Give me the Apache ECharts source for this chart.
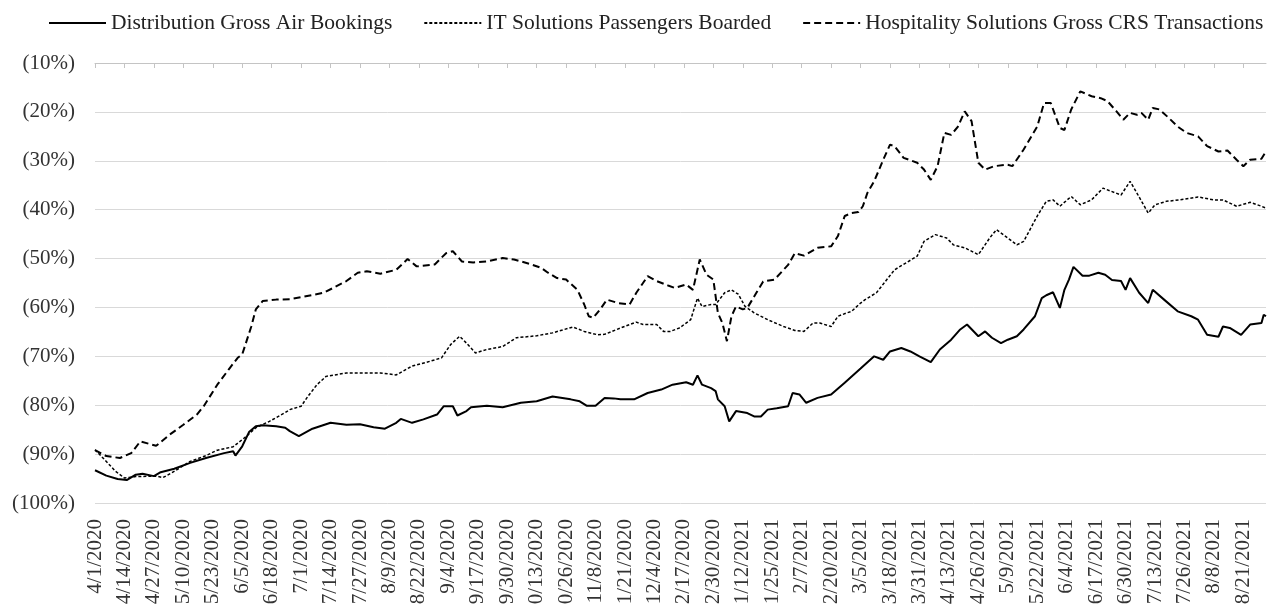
<!DOCTYPE html>
<html>
<head>
<meta charset="utf-8">
<script src="https://cdn.jsdelivr.net/npm/echarts@6.0.0/dist/echarts.min.js"></script>
<style>
  html, body { margin: 0; padding: 0; background: #ffffff; }
  #chart { width: 1267px; height: 604px; }
</style>
</head>
<body>
<div id="chart"></div>
<script>
// Day offsets are counted from 4/1/2020 (day 0); tick labels every 13 days.
const xTickLabels = ['4/1/2020','4/14/2020','4/27/2020','5/10/2020','5/23/2020','6/5/2020','6/18/2020','7/1/2020','7/14/2020','7/27/2020','8/9/2020','8/22/2020','9/4/2020','9/17/2020','9/30/2020','10/13/2020','10/26/2020','11/8/2020','11/21/2020','12/4/2020','12/17/2020','12/30/2020','1/12/2021','1/25/2021','2/7/2021','2/20/2021','3/5/2021','3/18/2021','3/31/2021','4/13/2021','4/26/2021','5/9/2021','5/22/2021','6/4/2021','6/17/2021','6/30/2021','7/13/2021','7/26/2021','8/8/2021','8/21/2021'];
const tickStepDays = 13;
const lastDay = 517;

const seriesNames = ['Distribution Gross Air Bookings', 'IT Solutions Passengers Boarded', 'Hospitality Solutions Gross CRS Transactions'];

// [day offset, % change]
const distribution = [[0,-93.3],[5,-94.4],[10,-95.1],[14,-95.3],[18,-94.2],[21,-94.0],[26,-94.5],[29,-93.7],[35,-93.0],[42,-91.8],[49,-90.8],[57,-89.8],[61,-89.4],[62,-90.3],[65,-88.4],[68,-85.5],[71,-84.3],[74,-84.1],[80,-84.3],[84,-84.6],[86,-85.3],[90,-86.3],[96,-84.8],[104,-83.6],[111,-84.0],[117,-83.9],[123,-84.5],[128,-84.8],[133,-83.6],[135,-82.8],[140,-83.6],[145,-82.9],[151,-81.9],[154,-80.2],[158,-80.2],[160,-82.1],[164,-81.2],[166,-80.4],[173,-80.1],[180,-80.4],[188,-79.5],[195,-79.2],[202,-78.2],[210,-78.8],[214,-79.2],[217,-80.1],[221,-80.1],[225,-78.5],[229,-78.6],[232,-78.8],[238,-78.8],[244,-77.5],[250,-76.8],[255,-75.8],[261,-75.3],[264,-75.8],[266,-73.9],[268,-75.8],[272,-76.5],[274,-77.1],[275,-78.8],[278,-80.2],[280,-83.3],[283,-81.2],[288,-81.6],[291,-82.3],[294,-82.3],[297,-80.9],[301,-80.6],[306,-80.2],[308,-77.5],[311,-77.8],[314,-79.5],[319,-78.5],[325,-77.8],[331,-75.4],[338,-72.5],[344,-70.0],[348,-70.7],[351,-69.0],[356,-68.3],[360,-69.0],[364,-70.0],[369,-71.2],[373,-68.6],[378,-66.6],[382,-64.5],[385,-63.5],[390,-65.9],[393,-64.9],[396,-66.2],[400,-67.3],[403,-66.6],[407,-65.9],[410,-64.5],[415,-61.8],[418,-58.1],[420,-57.5],[423,-56.9],[426,-60.1],[428,-56.4],[430,-54.3],[432,-51.7],[436,-53.5],[439,-53.5],[443,-52.9],[446,-53.3],[449,-54.4],[453,-54.6],[455,-56.4],[457,-54.0],[461,-57.0],[465,-59.1],[467,-56.4],[472,-58.4],[478,-60.8],[484,-61.8],[487,-62.5],[491,-65.6],[496,-66.0],[498,-63.9],[501,-64.2],[506,-65.6],[510,-63.5],[515,-63.2],[516,-61.5],[517,-61.8]];

const itSolutions = [[0,-89.1],[5,-91.5],[9,-93.5],[13,-94.9],[18,-94.6],[27,-94.5],[30,-94.8],[34,-93.8],[42,-91.5],[49,-90.3],[54,-89.2],[61,-88.5],[67,-86.3],[71,-84.6],[77,-83.3],[84,-81.5],[86,-80.9],[91,-80.2],[94,-78.2],[98,-75.8],[102,-74.1],[111,-73.4],[126,-73.4],[133,-73.8],[140,-72.0],[148,-71.0],[153,-70.3],[157,-67.6],[161,-65.9],[164,-67.3],[168,-69.3],[173,-68.6],[180,-68.0],[186,-66.2],[195,-65.8],[202,-65.2],[211,-64.0],[216,-64.9],[222,-65.6],[225,-65.5],[232,-64.2],[239,-63.0],[242,-63.5],[248,-63.5],[251,-64.9],[254,-64.9],[258,-64.2],[263,-62.5],[266,-58.1],[268,-59.8],[272,-59.4],[274,-59.4],[278,-57.0],[281,-56.4],[284,-57.3],[287,-59.8],[291,-61.1],[297,-62.5],[304,-63.9],[309,-64.7],[313,-64.9],[317,-63.2],[320,-63.2],[325,-63.9],[328,-61.8],[332,-61.1],[334,-60.8],[338,-59.1],[340,-58.4],[345,-57.0],[353,-52.3],[363,-49.5],[366,-46.5],[371,-45.1],[376,-45.8],[379,-47.2],[384,-47.8],[390,-49.2],[395,-45.8],[398,-44.1],[403,-45.8],[407,-47.2],[410,-46.5],[416,-41.3],[420,-38.3],[423,-38.0],[426,-39.3],[431,-37.3],[435,-39.0],[440,-38.0],[445,-35.6],[453,-37.0],[457,-34.2],[460,-36.6],[465,-40.7],[468,-39.0],[473,-38.3],[479,-38.0],[487,-37.4],[494,-38.0],[498,-38.0],[504,-39.3],[510,-38.5],[515,-39.3],[517,-39.7]];

const hospitality = [[0,-89.2],[5,-90.4],[11,-90.8],[16,-89.8],[20,-87.4],[27,-88.3],[33,-86.0],[39,-84.0],[45,-81.9],[48,-80.2],[54,-75.8],[59,-72.7],[63,-70.3],[65,-69.6],[69,-63.9],[71,-60.4],[74,-58.7],[80,-58.4],[86,-58.3],[91,-57.9],[101,-57.0],[111,-54.6],[116,-52.9],[120,-52.6],[126,-53.1],[133,-52.3],[138,-50.1],[142,-51.6],[150,-51.2],[155,-48.9],[158,-48.5],[162,-50.6],[167,-50.8],[173,-50.6],[180,-49.9],[185,-50.2],[192,-51.1],[197,-51.9],[200,-52.9],[204,-54.0],[208,-54.3],[213,-56.4],[216,-59.4],[218,-61.8],[220,-62.1],[223,-60.4],[226,-58.4],[231,-59.1],[236,-59.4],[239,-57.0],[244,-53.6],[248,-54.6],[253,-55.5],[256,-56.0],[261,-55.3],[264,-56.4],[267,-50.2],[270,-53.3],[273,-54.3],[275,-61.1],[277,-63.2],[279,-66.9],[281,-61.8],[283,-59.8],[286,-60.4],[288,-60.1],[292,-57.0],[295,-54.7],[300,-54.3],[306,-51.3],[309,-48.9],[313,-49.4],[319,-47.8],[325,-47.5],[328,-45.4],[331,-41.3],[334,-40.7],[337,-40.5],[339,-39.3],[341,-36.6],[344,-34.2],[348,-29.8],[351,-26.7],[353,-27.0],[357,-29.4],[363,-30.4],[366,-31.8],[369,-33.9],[372,-31.1],[375,-24.3],[378,-24.7],[381,-23.0],[384,-19.9],[387,-21.9],[390,-30.4],[393,-31.8],[397,-31.1],[403,-30.8],[405,-31.1],[410,-27.7],[416,-23.0],[419,-18.2],[422,-18.2],[426,-23.3],[428,-23.7],[431,-19.5],[435,-15.8],[440,-16.8],[444,-17.2],[447,-17.8],[451,-19.9],[454,-21.6],[457,-20.2],[460,-20.6],[462,-20.2],[465,-21.6],[467,-19.2],[470,-19.5],[474,-21.2],[478,-23.0],[482,-24.3],[487,-25.0],[491,-27.0],[496,-28.1],[500,-27.9],[504,-29.8],[507,-31.1],[510,-29.8],[515,-29.6],[517,-28.1]];

const yMin = -100, yMax = -10, yStep = 10;

const tickDays = xTickLabels.map((_, i) => i * tickStepDays);
const FONT = '"Liberation Serif", "Times New Roman", serif';

const chart = echarts.init(document.getElementById('chart'), null, { renderer: 'canvas' });
chart.setOption({
  animation: false,
  backgroundColor: '#ffffff',
  legend: {
    data: seriesNames,
    left: 43,
    top: 7,
    width: 1224,
    itemWidth: 57,
    itemHeight: 12,
    itemGap: 31,
    itemStyle: { opacity: 0 },
    textStyle: { fontFamily: FONT, fontSize: 21.5, color: '#222222' }
  },
  grid: { left: 95, right: 1, top: 63, bottom: 101, containLabel: false, outerBoundsMode: 'none' },
  xAxis: [
    {
      type: 'value', position: 'bottom', min: 0, max: lastDay,
      axisLine: { show: false }, axisTick: { show: false }, splitLine: { show: false },
      axisLabel: {
        customValues: tickDays,
        rotate: 90, margin: 16, hideOverlap: false,
        fontFamily: FONT, fontSize: 21, color: '#333333',
        formatter: v => xTickLabels[Math.round(v / tickStepDays)] || ''
      }
    },
    {
      type: 'value', position: 'top', min: 0, max: lastDay,
      axisLine: { show: true, lineStyle: { color: '#c4c4c4', width: 1 } },
      axisTick: { show: true, inside: true, length: 5, customValues: tickDays, lineStyle: { color: '#c4c4c4' } },
      axisLabel: { show: false },
      splitLine: { show: false }
    }
  ],
  yAxis: {
    type: 'value', min: yMin, max: yMax, interval: yStep,
    axisLine: { show: false }, axisTick: { show: false },
    splitLine: { show: true, lineStyle: { color: '#d9d9d9', width: 1 } },
    axisLabel: {
      margin: 20, fontFamily: FONT, fontSize: 21, color: '#333333',
      formatter: v => '(' + Math.abs(v) + '%)'
    }
  },
  series: [
    { name: seriesNames[0], type: 'line', xAxisIndex: 0, symbol: 'none', data: distribution,
      lineStyle: { color: '#000000', width: 2, type: 'solid' }, itemStyle: { color: '#000000' } },
    { name: seriesNames[1], type: 'line', xAxisIndex: 0, symbol: 'none', data: itSolutions,
      lineStyle: { color: '#000000', width: 1.5, type: [3, 2] }, itemStyle: { color: '#000000' } },
    { name: seriesNames[2], type: 'line', xAxisIndex: 0, symbol: 'none', data: hospitality,
      lineStyle: { color: '#000000', width: 2, type: [7, 4] }, itemStyle: { color: '#000000' } }
  ]
});
</script>
</body>
</html>
